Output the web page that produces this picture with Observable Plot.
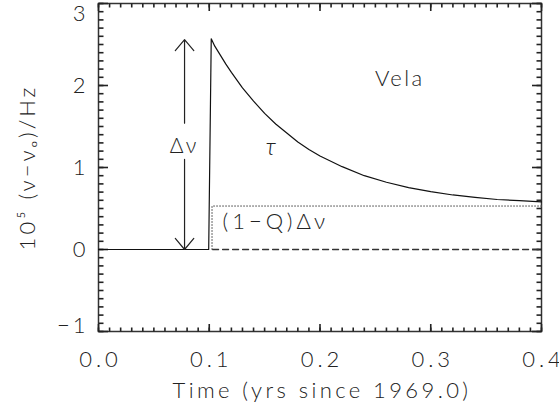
<!DOCTYPE html>
<html><head><meta charset="utf-8">
<script src="https://cdn.jsdelivr.net/npm/d3@7"></script>
<script src="https://cdn.jsdelivr.net/npm/@observablehq/plot@0.6"></script>
<style>
body{margin:0;background:#fff} svg{display:block}
svg text{letter-spacing:3px}
g[aria-description="xtick"] text{letter-spacing:4px}
g[aria-description="xlabel"] text{letter-spacing:3.4px}
g[aria-description="ylabel"] text{letter-spacing:3px}
g[aria-description="vela"] text{letter-spacing:2.4px}
g[aria-description="step"] text{letter-spacing:4px}
</style>
</head><body><div id="chart"></div>
<script>
// axis ticks
const xTicks = [0, 0.1, 0.2, 0.3, 0.4];
const xTickLabels = ["0.0", "0.1", "0.2", "0.3", "0.4"];
const yTicks = [-1, 0, 1, 2, 3];
const yTickLabels = ["−1", "0", "1", "2", "3"];

// glitch curve (solid)
const glitchTime = [0, 0.0995, 0.1018, 0.105, 0.11, 0.115, 0.12, 0.13, 0.14, 0.15, 0.16, 0.17, 0.18, 0.19, 0.20, 0.22, 0.24, 0.26, 0.28, 0.30, 0.32, 0.34, 0.36, 0.38, 0.40];
const glitchFreq = [0, 0, 2.57, 2.48, 2.37, 2.26, 2.16, 1.97, 1.81, 1.66, 1.53, 1.42, 1.31, 1.22, 1.14, 1.01, 0.90, 0.82, 0.755, 0.705, 0.665, 0.635, 0.61, 0.595, 0.58];

// baseline (dashed)
const baseTime = [0.103, 0.4];
const baseFreq = [0, 0];

// permanent step (dotted)
const stepTime = [0.1025, 0.1025, 0.4];
const stepFreq = [0, 0.53, 0.53];

// Δν arrow
const arrowX = 0.0777;
const arrowUp = [1.54, 2.56];
const arrowDown = [1.10, 0.0];

// annotations
const noteText = ["Vela", "τ", "(1−Q)Δν", "Δν"];
const noteX = [0.272, 0.157, 0.112, 0.0777];
const noteY = [2.08, 1.25, 0.33, 1.26];

const FONT = "Lato, 'DejaVu Sans', sans-serif";
const INK = "#222";
const W = 559, H = 406, ML = 98, MR = 18, MT = 3, MB = 75;
const X0 = 0, X1 = 0.4, Y0 = -1, Y1 = 3;
const KX = (W - ML - MR) / (X1 - X0);   // px per x unit
const KY = (H - MT - MB) / (Y1 - Y0);   // px per y unit

const solid = glitchTime.map((t, i) => ({t, f: glitchFreq[i]}));
const base = baseTime.map((t, i) => ({t, f: baseFreq[i]}));
const step = stepTime.map((t, i) => ({t, f: stepFreq[i]}));
const notes = noteText.map((s, i) => ({s, x: noteX[i], y: noteY[i]}));
const xt = xTicks.map((v, i) => ({v, s: xTickLabels[i]}));
const yt = yTicks.map((v, i) => ({v, s: yTickLabels[i]}));
const xMinor = d3.range(0, 0.4001, 0.01);
const yMinor = d3.range(-1, 3.001, 0.1);

// inward tick marks on all four sides, placed through the scales
const TK = {stroke: "#222", strokeWidth: 1.6};
const tickMarks = (data, dim, len) => dim === "x"
  ? [Plot.link(data, {x1: d => d, x2: d => d, y1: () => Y0, y2: () => Y0 + len / KY, ...TK}),
     Plot.link(data, {x1: d => d, x2: d => d, y1: () => Y1, y2: () => Y1 - len / KY, ...TK})]
  : [Plot.link(data, {y1: d => d, y2: d => d, x1: () => X0, x2: () => X0 + len / KX, ...TK}),
     Plot.link(data, {y1: d => d, y2: d => d, x1: () => X1, x2: () => X1 - len / KX, ...TK})];

const TXT = {fill: INK, fontSize: 22, fontWeight: 300};

const chart = Plot.plot({
  width: W, height: H,
  marginLeft: ML, marginRight: MR, marginTop: MT, marginBottom: MB,
  style: {fontFamily: FONT, background: "#fff"},
  x: {domain: [X0, X1], axis: null},
  y: {domain: [Y0, Y1], axis: null},
  marks: [
    Plot.frame({stroke: "#333", strokeWidth: 1.5}),
    ...tickMarks(xMinor, "x", 4), ...tickMarks(yMinor, "y", 5),
    ...tickMarks(xTicks, "x", 7.5), ...tickMarks(yTicks, "y", 9.5),
    // tick labels
    Plot.text(xt, {x: "v", text: "s", frameAnchor: "bottom", lineAnchor: "middle", textAnchor: "middle", dy: 28, dx: 2, ariaDescription: "xtick", ...TXT}),
    Plot.text(yt.filter(d => d.v > -1 && d.v < 3), {y: "v", text: "s", frameAnchor: "left", lineAnchor: "middle", dx: -10, textAnchor: "end", ...TXT}),
    Plot.text(yt.filter(d => d.v === 3), {y: "v", text: "s", frameAnchor: "left", lineAnchor: "middle", dx: -10, dy: 10, textAnchor: "end", ...TXT}),
    Plot.text(yt.filter(d => d.v === -1), {y: "v", text: "s", frameAnchor: "left", lineAnchor: "middle", dx: -10, dy: -6, textAnchor: "end", ...TXT}),
    // axis titles
    Plot.text([0], {frameAnchor: "bottom", lineAnchor: "middle", textAnchor: "middle", dy: 59, dx: 2, text: () => "Time (yrs since 1969.0)", ariaDescription: "xlabel", ...TXT}),
    Plot.text([0], {frameAnchor: "left", lineAnchor: "middle", textAnchor: "middle", dx: -71, rotate: -90, text: () => "10⁵ (ν−νₒ)/Hz", ariaDescription: "ylabel", ...TXT}),
    // data
    Plot.line(base, {x: "t", y: "f", stroke: "#333", strokeWidth: 1.3, strokeDasharray: "6,4"}),
    Plot.line(step, {x: "t", y: "f", stroke: "#555", strokeWidth: 1, strokeDasharray: "1,2"}),
    Plot.line(solid, {x: "t", y: "f", stroke: "#111", strokeWidth: 1.2}),
    Plot.arrow([0], {x1: () => arrowX, x2: () => arrowX, y1: () => arrowUp[0], y2: () => arrowUp[1], stroke: "#222", strokeWidth: 1.2, headLength: 18, headAngle: 80}),
    Plot.arrow([0], {x1: () => arrowX, x2: () => arrowX, y1: () => arrowDown[0], y2: () => arrowDown[1], stroke: "#222", strokeWidth: 1.2, headLength: 18, headAngle: 80}),
    // annotations
    Plot.text(notes.filter(d => d.s === "Vela"), {x: "x", y: "y", text: "s", ariaDescription: "vela", ...TXT}),
    Plot.text(notes.filter(d => d.s === "τ"), {x: "x", y: "y", text: "s", fill: INK, fontSize: 24, fontWeight: 300, fontStyle: "italic"}),
    Plot.text(notes.filter(d => d.s === "(1−Q)Δν"), {x: "x", y: "y", text: "s", textAnchor: "start", ariaDescription: "step", ...TXT}),
    Plot.text(notes.filter(d => d.s === "Δν"), {x: "x", y: "y", text: "s", ...TXT, fontSize: 21})
  ]
});
document.getElementById("chart").append(chart);
</script>
</body></html>
